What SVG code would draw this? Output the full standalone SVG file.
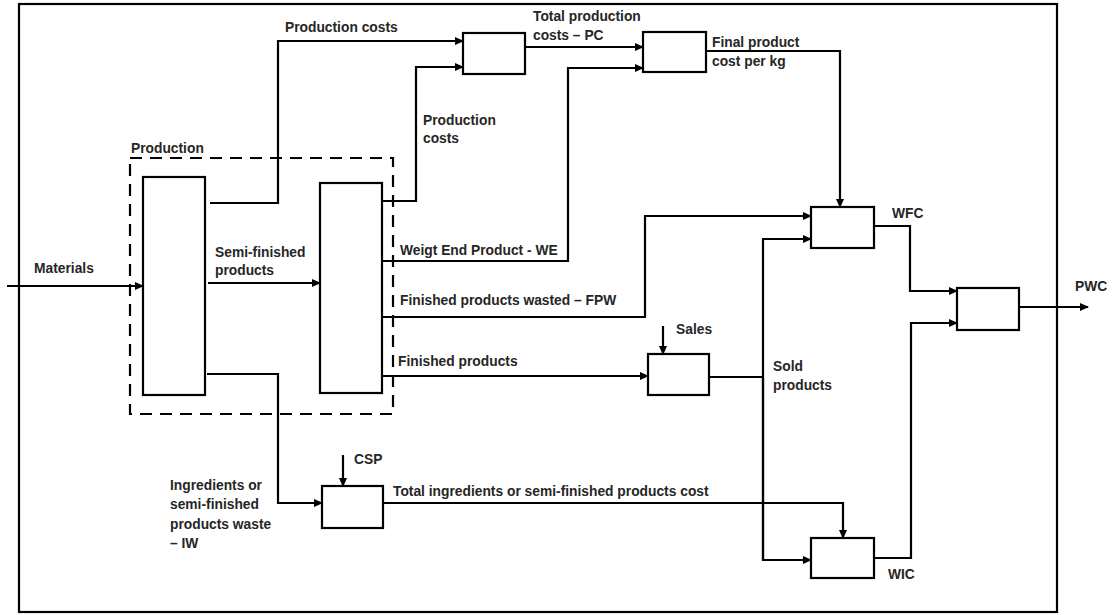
<svg xmlns="http://www.w3.org/2000/svg" width="1114" height="615" viewBox="0 0 1114 615">
<style>
.box{fill:#fff;stroke:#000;stroke-width:2.2}
.ln{fill:none;stroke:#000;stroke-width:2.2}
.arr{fill:none;stroke:#000;stroke-width:2.2;marker-end:url(#ah)}
.t{font-family:"Liberation Sans",Arial,sans-serif;font-weight:bold;font-size:13.8px;fill:#262626}
</style>
<defs>
<marker id="ah" markerUnits="userSpaceOnUse" markerWidth="9" markerHeight="8" refX="8" refY="4" orient="auto">
<path d="M0,0 L9,4 L0,8 z" fill="#000"/>
</marker>
</defs>
<rect x="0" y="0" width="1114" height="615" fill="#fff"/>
<rect id="frame" x="19" y="4" width="1038" height="608" class="ln"/>
<g id="production-group">
<rect x="130" y="158" width="263" height="256" fill="none" stroke="#000" stroke-width="2.2" stroke-dasharray="12,8"/>
<text class="t" x="131" y="153">Production</text>
</g>
<g id="connectors">
<path class="arr" d="M7,286 H143"/>
<path class="arr" d="M208,283 H320"/>
<path class="arr" d="M210,203 H278 V41 H463"/>
<path class="arr" d="M382,201 H416 V67 H463"/>
<path class="arr" d="M525,47 H643"/>
<path class="arr" d="M382,261 H568 V68 H643"/>
<path class="arr" d="M706,51 H840 V207"/>
<path class="arr" d="M382,317 H645 V216 H811"/>
<path class="arr" d="M382,376 H648"/>
<path class="arr" d="M663,326 V354"/>
<path class="ln" d="M709,377 H763"/>
<path class="arr" d="M763,560 V239 H811"/>
<path class="arr" d="M763,377 V560 H811"/>
<path class="arr" d="M874,226 H910 V291 H957"/>
<path class="arr" d="M874,558 H911 V323 H957"/>
<path class="arr" d="M1019,307 H1088"/>
<path class="arr" d="M207,374 H278 V503 H322"/>
<path class="arr" d="M343,455 V486"/>
<path class="arr" d="M383,503 H843 V538"/>
</g>
<g id="box1"><rect class="box" x="143" y="177" width="62" height="218"/></g>
<g id="box2"><rect class="box" x="320" y="183" width="62" height="210"/></g>
<g id="box-total-pc"><rect class="box" x="463" y="33" width="62" height="41"/></g>
<g id="box-cost-kg"><rect class="box" x="643" y="32" width="63" height="40"/></g>
<g id="box-wfc"><rect class="box" x="811" y="207" width="63" height="41"/></g>
<g id="box-sales"><rect class="box" x="648" y="354" width="61" height="41"/></g>
<g id="box-pwc"><rect class="box" x="957" y="288" width="62" height="42"/></g>
<g id="box-wic"><rect class="box" x="811" y="538" width="63" height="40"/></g>
<g id="box-csp"><rect class="box" x="322" y="486" width="61" height="42"/></g>
<g id="labels">
<text class="t" x="285" y="32">Production costs</text>
<text class="t" x="533" y="21">Total production</text>
<text class="t" x="533" y="40">costs – PC</text>
<text class="t" x="423" y="125">Production</text>
<text class="t" x="423" y="143">costs</text>
<text class="t" x="712" y="47">Final product</text>
<text class="t" x="712" y="66">cost per kg</text>
<text class="t" x="34" y="273">Materials</text>
<text class="t" x="215" y="257">Semi-finished</text>
<text class="t" x="215" y="275">products</text>
<text class="t" x="400" y="255">Weigt End Product - WE</text>
<text class="t" x="400" y="305">Finished products wasted – FPW</text>
<text class="t" x="398" y="366">Finished products</text>
<text class="t" x="676" y="334">Sales</text>
<text class="t" x="892" y="218">WFC</text>
<text class="t" x="1075" y="291">PWC</text>
<text class="t" x="773" y="371">Sold</text>
<text class="t" x="773" y="390">products</text>
<text class="t" x="354" y="464">CSP</text>
<text class="t" x="170" y="490">Ingredients or</text>
<text class="t" x="170" y="509">semi-finished</text>
<text class="t" x="170" y="529">products waste</text>
<text class="t" x="170" y="548">– IW</text>
<text class="t" x="393" y="496">Total ingredients or semi-finished products cost</text>
<text class="t" x="888" y="579">WIC</text>
</g>
</svg>
